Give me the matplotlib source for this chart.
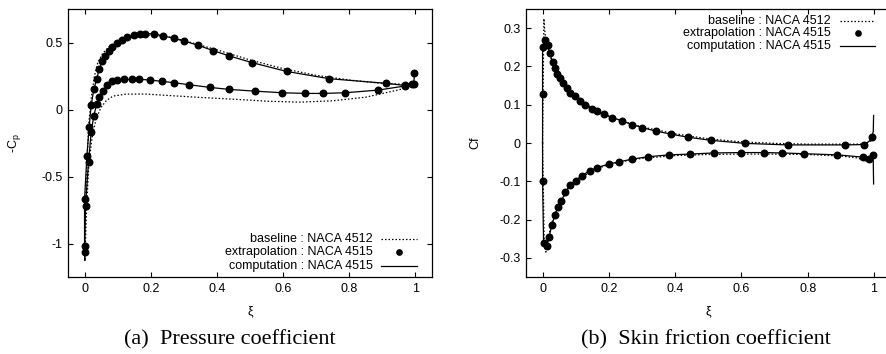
import matplotlib
matplotlib.use("Agg")
import matplotlib.pyplot as plt

# ---- (a) pressure coefficient, -Cp vs xi ----
cp_ext_up_x = [0.0, 0.0, 0.007, 0.014, 0.02, 0.028, 0.037, 0.044, 0.053, 0.063, 0.073, 0.084,
               0.098, 0.113, 0.128, 0.15, 0.167, 0.183, 0.209, 0.238, 0.271, 0.302, 0.342,
               0.388, 0.437, 0.506, 0.611, 0.739, 0.912, 0.967, 0.997]
cp_ext_up_y = [-1.015, -0.67, -0.35, -0.13, 0.03, 0.15, 0.23, 0.30, 0.36, 0.40, 0.44, 0.47,
               0.50, 0.52, 0.54, 0.555, 0.56, 0.565, 0.565, 0.55, 0.53, 0.51, 0.48,
               0.44, 0.40, 0.35, 0.284, 0.23, 0.195, 0.18, 0.275]
cp_ext_lo_x = [0.0, 0.003, 0.012, 0.02, 0.028, 0.037, 0.045, 0.057, 0.068, 0.083, 0.099, 0.118,
               0.143, 0.166, 0.199, 0.233, 0.271, 0.315, 0.379, 0.437, 0.514, 0.598, 0.666,
               0.722, 0.788, 0.888, 0.967, 0.989, 0.997]
cp_ext_lo_y = [-1.065, -0.72, -0.39, -0.17, -0.045, 0.04, 0.095, 0.14, 0.18, 0.21, 0.22, 0.225,
               0.225, 0.225, 0.22, 0.21, 0.20, 0.185, 0.165, 0.15, 0.137, 0.125, 0.12,
               0.12, 0.125, 0.145, 0.175, 0.19, 0.19]

cp_comp_up_x = [0.001, 0.0, 0.0, 0.007, 0.014, 0.02, 0.028, 0.037, 0.044, 0.053, 0.063, 0.073,
                0.084, 0.098, 0.113, 0.128, 0.15, 0.167, 0.183, 0.209, 0.238, 0.271, 0.302,
                0.342, 0.388, 0.437, 0.506, 0.611, 0.739, 0.912, 0.967, 0.995, 0.997]
cp_comp_up_y = [-1.125, -1.015, -0.67, -0.35, -0.13, 0.03, 0.15, 0.23, 0.30, 0.36, 0.40, 0.44,
                0.47, 0.50, 0.52, 0.54, 0.555, 0.56, 0.565, 0.565, 0.55, 0.53, 0.51,
                0.48, 0.44, 0.40, 0.35, 0.284, 0.23, 0.195, 0.18, 0.19, 0.275]
cp_comp_lo_x = [0.001, 0.0, 0.003, 0.012, 0.02, 0.028, 0.037, 0.045, 0.057, 0.068, 0.083, 0.099,
                0.118, 0.143, 0.166, 0.199, 0.233, 0.271, 0.315, 0.379, 0.437, 0.514, 0.598,
                0.666, 0.722, 0.788, 0.888, 0.967, 0.989, 0.997]
cp_comp_lo_y = [-1.125, -1.065, -0.72, -0.39, -0.17, -0.045, 0.04, 0.095, 0.14, 0.18, 0.21, 0.22,
                0.225, 0.225, 0.225, 0.22, 0.21, 0.20, 0.185, 0.165, 0.15, 0.137, 0.125,
                0.12, 0.12, 0.125, 0.145, 0.175, 0.19, 0.19]

cp_base_up_x = [0.001, 0.003, 0.008, 0.013, 0.02, 0.03, 0.04, 0.055, 0.075, 0.1, 0.15, 0.2,
                0.25, 0.3, 0.4, 0.5, 0.6, 0.7, 0.8, 0.9, 1.0]
cp_base_up_y = [-1.12, -0.70, -0.35, -0.10, 0.08, 0.25, 0.35, 0.42, 0.47, 0.51, 0.545, 0.555,
                0.545, 0.515, 0.445, 0.37, 0.305, 0.255, 0.22, 0.195, 0.185]
cp_base_lo_x = [0.001, 0.006, 0.012, 0.02, 0.025, 0.035, 0.05, 0.066, 0.086, 0.126, 0.186,
                0.25, 0.35, 0.45, 0.55, 0.65, 0.75, 0.85, 0.95, 1.0]
cp_base_lo_y = [-1.12, -0.75, -0.45, -0.26, -0.18, -0.07, 0.017, 0.067, 0.10, 0.115, 0.115,
                0.105, 0.09, 0.077, 0.062, 0.055, 0.065, 0.092, 0.147, 0.185]

# ---- (b) skin friction coefficient, Cf vs xi ----
cf_ext_up_x = [0.0, 0.0, 0.008, 0.015, 0.022, 0.03, 0.037, 0.044, 0.052, 0.062, 0.073, 0.084,
               0.098, 0.112, 0.128, 0.149, 0.165, 0.186, 0.211, 0.239, 0.271, 0.301, 0.343,
               0.388, 0.44, 0.508, 0.611, 0.74, 0.914, 0.97, 0.993]
cf_ext_up_y = [0.128, 0.252, 0.269, 0.255, 0.235, 0.211, 0.195, 0.18, 0.17, 0.157, 0.143, 0.131,
               0.124, 0.111, 0.10, 0.089, 0.083, 0.075, 0.066, 0.058, 0.048, 0.040, 0.031,
               0.023, 0.015, 0.007, -0.001, -0.005, -0.005, -0.004, 0.015]
cf_ext_lo_x = [0.0, 0.003, 0.012, 0.02, 0.028, 0.037, 0.047, 0.057, 0.069, 0.083, 0.1, 0.119,
               0.143, 0.165, 0.2, 0.232, 0.271, 0.317, 0.381, 0.444, 0.516, 0.6, 0.668,
               0.724, 0.789, 0.89, 0.968, 0.986, 0.996]
cf_ext_lo_y = [-0.098, -0.26, -0.27, -0.245, -0.214, -0.189, -0.167, -0.151, -0.128, -0.11,
               -0.098, -0.085, -0.072, -0.064, -0.055, -0.049, -0.042, -0.036, -0.031, -0.029,
               -0.026, -0.025, -0.025, -0.026, -0.028, -0.031, -0.037, -0.043, -0.031]

cf_comp_up_x = [0.0, 0.0, 0.0, 0.008, 0.015, 0.022, 0.03, 0.037, 0.044, 0.052, 0.062, 0.073,
                0.084, 0.098, 0.112, 0.128, 0.149, 0.165, 0.186, 0.211, 0.239, 0.271, 0.301,
                0.343, 0.388, 0.44, 0.508, 0.611, 0.74, 0.914, 0.97, 0.985, 0.993, 0.998,
                0.999]
cf_comp_up_y = [0.0, 0.128, 0.252, 0.269, 0.255, 0.235, 0.211, 0.195, 0.18, 0.17, 0.157, 0.143,
                0.131, 0.124, 0.111, 0.10, 0.089, 0.083, 0.075, 0.066, 0.058, 0.048, 0.040,
                0.031, 0.023, 0.015, 0.007, -0.001, -0.005, -0.005, -0.004, 0.004, 0.015,
                0.03, 0.072]
cf_comp_lo_x = [0.0, 0.0, 0.003, 0.012, 0.02, 0.028, 0.037, 0.047, 0.057, 0.069, 0.083, 0.1,
                0.119, 0.143, 0.165, 0.2, 0.232, 0.271, 0.317, 0.381, 0.444, 0.516, 0.6,
                0.668, 0.724, 0.789, 0.89, 0.968, 0.986, 0.996, 0.998, 0.999]
cf_comp_lo_y = [0.0, -0.098, -0.26, -0.27, -0.245, -0.214, -0.189, -0.167, -0.151, -0.128,
                -0.11, -0.098, -0.085, -0.072, -0.064, -0.055, -0.049, -0.042, -0.036, -0.031,
                -0.029, -0.026, -0.025, -0.025, -0.026, -0.028, -0.031, -0.037, -0.043,
                -0.031, -0.05, -0.107]

cf_base_up_x = [0.0, 0.004, 0.006, 0.01, 0.02, 0.03, 0.05, 0.07, 0.1, 0.15, 0.2, 0.25, 0.3,
                0.4, 0.5, 0.6, 0.7, 0.8, 0.9, 0.97, 0.99, 1.0]
cf_base_up_y = [0.0, 0.325, 0.30, 0.265, 0.235, 0.21, 0.172, 0.146, 0.121, 0.091, 0.07, 0.055,
                0.042, 0.024, 0.011, 0.003, -0.001, -0.003, -0.003, -0.003, 0.005, 0.02]
cf_base_lo_x = [0.0, 0.005, 0.01, 0.015, 0.025, 0.04, 0.06, 0.08, 0.1, 0.15, 0.2, 0.25, 0.3,
                0.4, 0.5, 0.6, 0.7, 0.8, 0.9, 0.95, 0.985, 1.0]
cf_base_lo_y = [0.0, -0.26, -0.285, -0.26, -0.215, -0.18, -0.145, -0.118, -0.1, -0.072,
                -0.056, -0.047, -0.04, -0.033, -0.03, -0.029, -0.029, -0.03, -0.034, -0.039,
                -0.05, -0.045]

legend_labels = ["baseline : NACA 4512", "extrapolation : NACA 4515", "computation : NACA 4515"]
xticks = [0, 0.2, 0.4, 0.6, 0.8, 1]
xticklabels = ["0", "0.2", "0.4", "0.6", "0.8", "1"]
cp_yticks = [-1, -0.5, 0, 0.5]
cp_yticklabels = ["-1", "-0.5", "0", "0.5"]
cf_yticks = [-0.3, -0.2, -0.1, 0, 0.1, 0.2, 0.3]
cf_yticklabels = ["-0.3", "-0.2", "-0.1", "0", "0.1", "0.2", "0.3"]

plt.rcParams["font.family"] = ["Liberation Sans", "DejaVu Sans"]
plt.rcParams["mathtext.default"] = "regular"

W, H = 886, 354
fig = plt.figure(figsize=(W / 100, H / 100), dpi=100)
ax1 = fig.add_axes([68 / W, 1 - 277 / H, 364 / W, 268 / H])
ax2 = fig.add_axes([526 / W, 1 - 277 / H, 364.5 / W, 268 / H])

LW = 0.9
MS = 4.7
FS = 9


def draw(ax, base, ext, comp):
    for x, y in base:
        ax.plot(x, y, color="black", lw=LW, ls=(0, (1.2, 1.6)))
    for x, y in comp:
        ax.plot(x, y, color="black", lw=LW)
    for x, y in ext:
        ax.plot(x, y, ls="none", marker="o", ms=MS, color="black")


def style(ax, yticks, yticklabels):
    ax.set_xlim(-0.05, 1.05)
    ax.set_xticks(xticks)
    ax.set_xticklabels(xticklabels)
    ax.set_yticks(yticks)
    ax.set_yticklabels(yticklabels)
    ax.tick_params(direction="in", length=3.6, width=0.8, top=True, right=True,
                   labelsize=FS, colors="black")
    ax.tick_params(axis="x", pad=4.5)
    ax.tick_params(axis="y", pad=4)
    for s in ax.spines.values():
        s.set_linewidth(0.9)
    ax.set_xlabel("ξ", fontsize=FS)
    ax.xaxis.set_label_coords(0.5, -0.105)


def legend(ax, tx, lx0, lx1, ys):
    # gnuplot style key: right-aligned text, sample to its right
    sty = [dict(ls=(0, (1.2, 1.6)), lw=LW), dict(ls="none", marker="o", ms=3.8), dict(lw=LW)]
    for lab, y, st in zip(legend_labels, ys, sty):
        ax.text(tx, y, lab, transform=ax.transAxes, ha="right", va="center", fontsize=FS)
        if st.get("marker"):
            ax.plot([(lx0 + lx1) / 2], [y], transform=ax.transAxes, color="black",
                    clip_on=False, **st)
        else:
            ax.plot([lx0, lx1], [y, y], transform=ax.transAxes, color="black",
                    clip_on=False, **st)


draw(ax1,
     [(cp_base_up_x, cp_base_up_y), (cp_base_lo_x, cp_base_lo_y)],
     [(cp_ext_up_x, cp_ext_up_y), (cp_ext_lo_x, cp_ext_lo_y)],
     [(cp_comp_up_x, cp_comp_up_y), (cp_comp_lo_x, cp_comp_lo_y)])
style(ax1, cp_yticks, cp_yticklabels)
ax1.set_ylim(-1.25, 0.75)
ax1.set_ylabel("-C$_p$", fontsize=FS, va="center")
ax1.yaxis.set_label_coords(-0.146, 0.5)
legend(ax1, (373 - 68) / 364, (381 - 68) / 364, (417 - 68) / 364,
       [(277 - 239) / 268, (277 - 252) / 268, (277 - 266) / 268])

draw(ax2,
     [(cf_base_up_x, cf_base_up_y), (cf_base_lo_x, cf_base_lo_y)],
     [(cf_ext_up_x, cf_ext_up_y), (cf_ext_lo_x, cf_ext_lo_y)],
     [(cf_comp_up_x, cf_comp_up_y), (cf_comp_lo_x, cf_comp_lo_y)])
style(ax2, cf_yticks, cf_yticklabels)
ax2.set_ylim(-0.35, 0.35)
ax2.set_ylabel("Cf", fontsize=FS, va="center")
ax2.yaxis.set_label_coords(-0.14, 0.5)
legend(ax2, (831 - 526) / 364.5, (840 - 526) / 364.5, (875 - 526) / 364.5,
       [(277 - 21) / 268, (277 - 33) / 268, (277 - 46) / 268])

fig.text(230 / W, 1 - 340 / H, "(a)  Pressure coefficient", ha="center", va="center",
         fontsize=16, family=["Liberation Serif", "DejaVu Serif"])
fig.text(706 / W, 1 - 340 / H, "(b)  Skin friction coefficient", ha="center", va="center",
         fontsize=16, family=["Liberation Serif", "DejaVu Serif"])

fig.savefig("out.png", dpi=100)
